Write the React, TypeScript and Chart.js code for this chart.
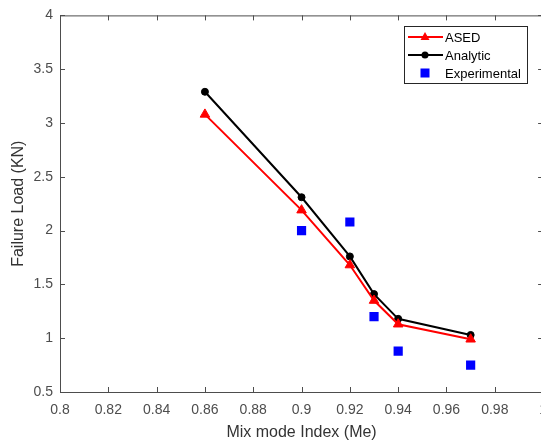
import React, { useEffect, useRef } from "react";
import { Chart, registerables } from "chart.js";

Chart.register(...registerables);

// Failure load vs. mix mode index
const mixModeIndex = [0.86, 0.9, 0.92, 0.93, 0.94, 0.97];
const asedLoad = [3.08, 2.19, 1.68, 1.35, 1.13, 0.99];
const analyticLoad = [3.29, 2.31, 1.76, 1.41, 1.18, 1.03];
const experimentalIndex = [0.9, 0.92, 0.93, 0.94, 0.97];
const experimentalLoad = [2.0, 2.08, 1.2, 0.88, 0.75];

const xTicks = [0.8, 0.82, 0.84, 0.86, 0.88, 0.9, 0.92, 0.94, 0.96, 0.98, 1];
const yTicks = [0.5, 1, 1.5, 2, 2.5, 3, 3.5, 4];

const AXIS_COLOR = "#4d4d4d";
const TEXT_COLOR = "#4d4d4d";
const FONT = "'Liberation Sans', Arial, sans-serif";

// Draws the box frame, inward tick marks on all four sides and the legend
const framePlugin = {
  id: "frameAndLegend",
  afterDraw(chart: any) {
    const { ctx, chartArea, scales } = chart;
    const { left, right, top, bottom } = chartArea;
    const tl = 5;
    ctx.save();
    ctx.strokeStyle = AXIS_COLOR;
    ctx.lineWidth = 1;
    ctx.beginPath();
    ctx.moveTo(left, top + 0.5);
    ctx.lineTo(right, top + 0.5);
    ctx.moveTo(right - 0.5, top);
    ctx.lineTo(right - 0.5, bottom);
    for (const v of xTicks) {
      const px = Math.round(scales.x.getPixelForValue(v)) + 0.5;
      ctx.moveTo(px, bottom);
      ctx.lineTo(px, bottom - tl);
      ctx.moveTo(px, top);
      ctx.lineTo(px, top + tl);
    }
    for (const v of yTicks) {
      const py = Math.round(scales.y.getPixelForValue(v)) + 0.5;
      ctx.moveTo(left, py);
      ctx.lineTo(left + tl, py);
      ctx.moveTo(right, py);
      ctx.lineTo(right - tl, py);
    }
    ctx.stroke();

    // legend
    const bx = 404.5, by = 26.5, bw = 123, bh = 57;
    ctx.fillStyle = "#ffffff";
    ctx.fillRect(bx, by, bw, bh);
    ctx.strokeStyle = "#262626";
    ctx.strokeRect(bx, by, bw, bh);
    const rows = [37, 55, 73];
    ctx.font = `13px ${FONT}`;
    ctx.textBaseline = "middle";
    ctx.textAlign = "left";
    chart.data.datasets.forEach((ds: any, i: number) => {
      const y = rows[i];
      const mx = 425;
      if (ds.showLine) {
        ctx.strokeStyle = ds.borderColor;
        ctx.lineWidth = 2;
        ctx.beginPath();
        ctx.moveTo(408, y);
        ctx.lineTo(443, y);
        ctx.stroke();
      }
      ctx.fillStyle = ds.backgroundColor;
      ctx.strokeStyle = ds.borderColor;
      ctx.lineWidth = 1;
      ctx.beginPath();
      if (ds.pointStyle === "triangle") {
        ctx.moveTo(mx, y - 5);
        ctx.lineTo(mx + 4.5, y + 3);
        ctx.lineTo(mx - 4.5, y + 3);
        ctx.closePath();
        ctx.fill();
      } else if (ds.pointStyle === "circle") {
        ctx.arc(mx, y, 3.5, 0, Math.PI * 2);
        ctx.fill();
      } else {
        ctx.fillRect(mx - 4.5, y - 4.5, 9, 9);
      }
      ctx.fillStyle = "#000000";
      ctx.fillText(ds.label, 445, y + 1);
    });
    ctx.restore();
  },
};

export default function App() {
  const canvasRef = useRef<HTMLCanvasElement | null>(null);

  useEffect(() => {
    const canvas = canvasRef.current;
    if (!canvas) return;
    const tickFont = { family: FONT, size: 14 };
    const titleFont = { family: FONT, size: 16 };
    const chart = new Chart(canvas, {
      type: "scatter",
      data: {
        datasets: [
          {
            label: "ASED",
            data: mixModeIndex.map((x, i) => ({ x, y: asedLoad[i] })),
            showLine: true,
            borderColor: "#ff0000",
            backgroundColor: "#ff0000",
            borderWidth: 2,
            pointStyle: "triangle",
            pointRadius: 5.5,
            pointBorderWidth: 1,
          },
          {
            label: "Analytic",
            data: mixModeIndex.map((x, i) => ({ x, y: analyticLoad[i] })),
            showLine: true,
            borderColor: "#000000",
            backgroundColor: "#000000",
            borderWidth: 2,
            pointStyle: "circle",
            pointRadius: 3.5,
            pointBorderWidth: 1,
          },
          {
            label: "Experimental",
            data: experimentalIndex.map((x, i) => ({ x, y: experimentalLoad[i] })),
            showLine: false,
            borderColor: "#0000ff",
            backgroundColor: "#0000ff",
            pointStyle: "rect",
            pointRadius: 6.5,
            pointBorderWidth: 0,
          },
        ],
      },
      options: {
        responsive: false,
        animation: false,
        layout: { padding: { left: 0, top: 12, right: 10, bottom: 0 } },
        plugins: { legend: { display: false }, tooltip: { enabled: false } },
        scales: {
          x: {
            type: "linear",
            min: 0.8,
            max: 1,
            afterBuildTicks: (s: any) => {
              s.ticks = xTicks.map((v) => ({ value: v }));
            },
            afterFit: (s: any) => {
              s.height = 51;
            },
            grid: { display: false, drawTicks: false },
            border: { display: true, color: AXIS_COLOR, width: 1 },
            ticks: {
              padding: 10,
              autoSkip: false,
              maxRotation: 0,
              color: TEXT_COLOR,
              font: tickFont,
              callback: (v: any) => String(+Number(v).toFixed(2)),
            },
            title: {
              display: true,
              text: "Mix mode Index (Me)",
              color: "#333333",
              font: titleFont,
              padding: { top: 0, bottom: 1 },
            },
          },
          y: {
            type: "linear",
            min: 0.5,
            max: 4,
            afterBuildTicks: (s: any) => {
              s.ticks = yTicks.map((v) => ({ value: v }));
            },
            afterFit: (s: any) => {
              s.width = 60;
            },
            grid: { display: false, drawTicks: false },
            border: { display: true, color: AXIS_COLOR, width: 1 },
            ticks: {
              padding: 7,
              color: TEXT_COLOR,
              font: tickFont,
              callback: (v: any) => String(+Number(v).toFixed(2)),
            },
            title: {
              display: true,
              text: "Failure Load (KN)",
              color: "#333333",
              font: titleFont,
              padding: { top: 9, bottom: 0 },
            },
          },
        },
      },
      plugins: [framePlugin],
    } as any);
    return () => chart.destroy();
  }, []);

  return (
    <div
      style={{
        position: "fixed",
        left: 0,
        top: 0,
        width: 541,
        height: 443,
        overflow: "hidden",
        background: "#ffffff",
      }}
    >
      <canvas ref={canvasRef} width={557} height={443} style={{ display: "block" }} />
    </div>
  );
}
